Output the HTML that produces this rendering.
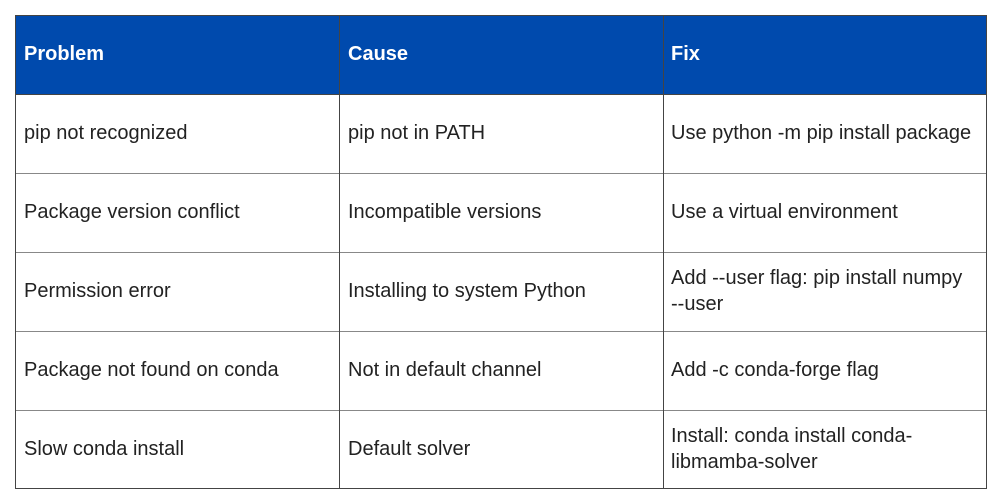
<!DOCTYPE html>
<html><head><style>
body{margin:0;width:1000px;height:500px;background:#fff;position:relative;font-family:"Liberation Sans",sans-serif;overflow:hidden}
.hdr{position:absolute;left:15px;top:15px;width:971px;height:79px;background:#004aad}
.h{position:absolute;left:0;width:1000px;height:1px;background:#444}
.v{position:absolute;top:15px;width:1px;height:474px;background:#444}
.t{position:absolute;font-size:20px;color:#222;line-height:26px;white-space:nowrap}
.b{color:#fff;font-weight:bold}
</style></head><body>
<div class="hdr"></div>
<div class="h" style="left:15px;width:972px;top:15px"></div>
<div class="h" style="left:15px;width:972px;top:94px"></div>
<div class="h" style="left:15px;width:972px;top:173px;background:#888"></div>
<div class="h" style="left:15px;width:972px;top:252px;background:#888"></div>
<div class="h" style="left:15px;width:972px;top:331px;background:#888"></div>
<div class="h" style="left:15px;width:972px;top:410px;background:#888"></div>
<div class="h" style="left:15px;width:972px;top:488px"></div>
<div class="v" style="left:15px"></div>
<div class="v" style="left:339px"></div>
<div class="v" style="left:663px"></div>
<div class="v" style="left:986px"></div>

<div class="t b" style="left:24px;top:41px">Problem</div>
<div class="t b" style="left:348px;top:41px">Cause</div>
<div class="t b" style="left:671px;top:41px">Fix</div>

<div class="t" style="left:24px;top:120px">pip not recognized</div>
<div class="t" style="left:348px;top:120px">pip not in PATH</div>
<div class="t" style="left:671px;top:120px">Use python -m pip install package</div>

<div class="t" style="left:24px;top:199px">Package version conflict</div>
<div class="t" style="left:348px;top:199px">Incompatible versions</div>
<div class="t" style="left:671px;top:199px">Use a virtual environment</div>

<div class="t" style="left:24px;top:278px">Permission error</div>
<div class="t" style="left:348px;top:278px">Installing to system Python</div>
<div class="t" style="left:671px;top:265px">Add --user flag: pip install numpy<br>--user</div>

<div class="t" style="left:24px;top:357px">Package not found on conda</div>
<div class="t" style="left:348px;top:357px">Not in default channel</div>
<div class="t" style="left:671px;top:357px">Add -c conda-forge flag</div>

<div class="t" style="left:24px;top:436px">Slow conda install</div>
<div class="t" style="left:348px;top:436px">Default solver</div>
<div class="t" style="left:671px;top:423px">Install: conda install conda-<br>libmamba-solver</div>
</body></html>
